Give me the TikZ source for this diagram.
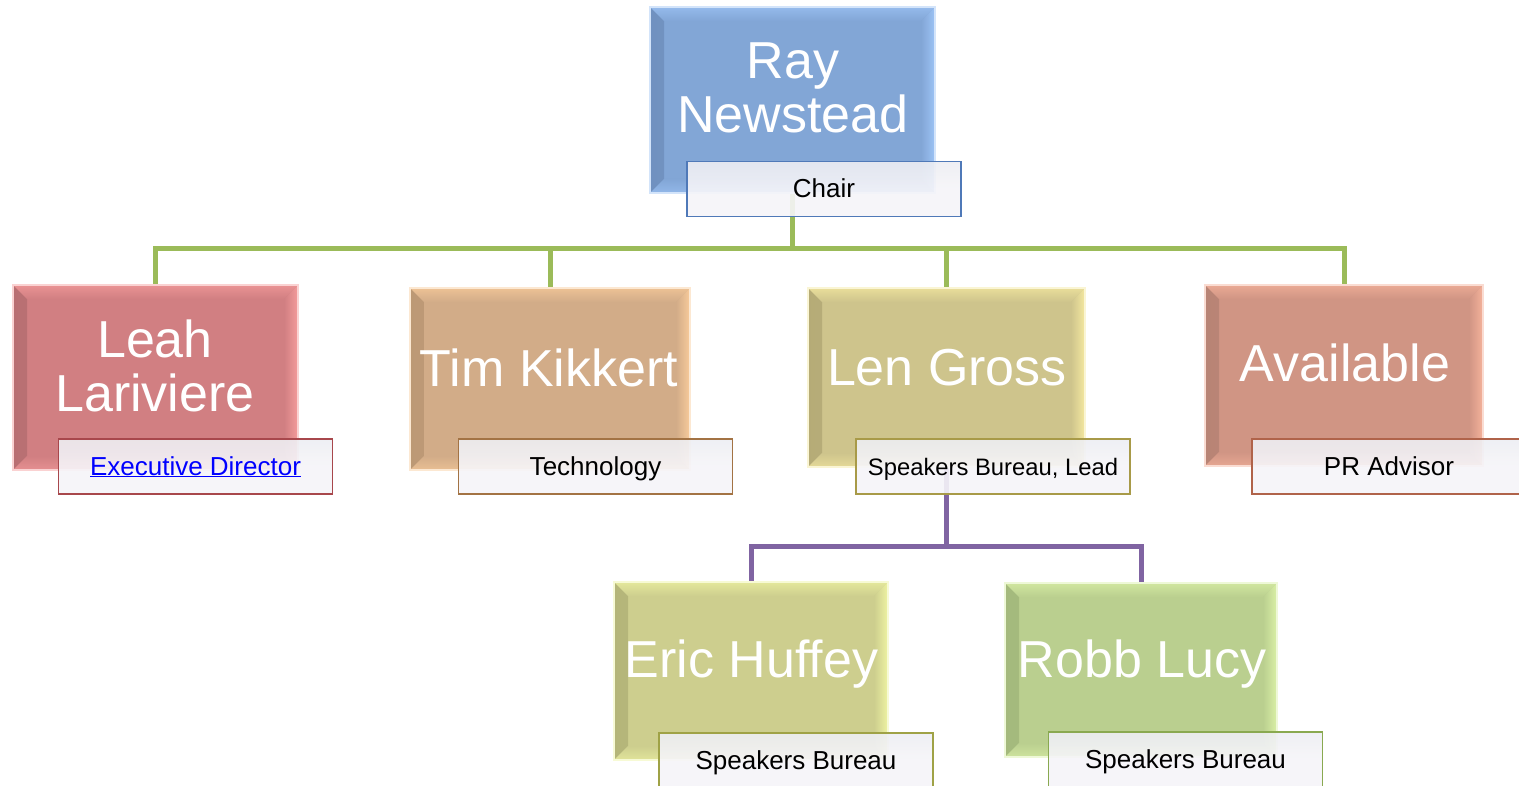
\documentclass[tikz,border=0pt]{standalone}
\usepackage{fontspec}
\setmainfont{Liberation Sans}
\usetikzlibrary{calc}
\definecolor{rayB}{HTML}{82A6D6}\definecolor{rayL}{HTML}{9DC3F5}\definecolor{rayD}{HTML}{6A8AB8}\definecolor{rayE}{HTML}{4F79B8}
\definecolor{leaB}{HTML}{D17F82}\definecolor{leaL}{HTML}{F49B9B}\definecolor{leaD}{HTML}{B06A6D}\definecolor{leaE}{HTML}{A8474C}
\definecolor{timB}{HTML}{D2AC88}\definecolor{timL}{HTML}{F8CB9B}\definecolor{timD}{HTML}{B5926F}\definecolor{timE}{HTML}{A37344}
\definecolor{lenB}{HTML}{CEC48C}\definecolor{lenL}{HTML}{F4E8A0}\definecolor{lenD}{HTML}{ADA370}\definecolor{lenE}{HTML}{A89A48}
\definecolor{avaB}{HTML}{D09584}\definecolor{avaL}{HTML}{F5B29B}\definecolor{avaD}{HTML}{B07E70}\definecolor{avaE}{HTML}{B0634A}
\definecolor{eriB}{HTML}{CDCE8E}\definecolor{eriL}{HTML}{EEF3A2}\definecolor{eriD}{HTML}{ACAD72}\definecolor{eriE}{HTML}{9FA246}
\definecolor{robB}{HTML}{BACF8F}\definecolor{robL}{HTML}{DAF0A6}\definecolor{robD}{HTML}{9CB276}\definecolor{robE}{HTML}{89A950}
\definecolor{lblfill}{HTML}{F6F5F9}
\definecolor{lbltop}{HTML}{EDEEF3}
\definecolor{gline}{HTML}{9BBB59}
\definecolor{pline}{HTML}{8064A2}
\definecolor{linkblue}{HTML}{0000FF}
\newcommand\bvw{14pt}
\tikzset{
  orgbox/.style n args={3}{rectangle, draw=#2!45!white, line width=1.2pt, fill=#1, inner sep=0pt,
    path picture={
      \shade[left color=#3!75!#1, right color=#1]
        (path picture bounding box.north west) -- ([shift={(\bvw,-\bvw)}]path picture bounding box.north west)
        -- ([shift={(\bvw,\bvw)}]path picture bounding box.south west) -- (path picture bounding box.south west) -- cycle;
      \shade[top color=#2!70!#1, bottom color=#1]
        (path picture bounding box.north west) -- (path picture bounding box.north east)
        -- ([shift={(-\bvw,-\bvw)}]path picture bounding box.north east) -- ([shift={(\bvw,-\bvw)}]path picture bounding box.north west) -- cycle;
      \shade[left color=#1, right color=#2]
        (path picture bounding box.north east) -- (path picture bounding box.south east)
        -- ([shift={(-\bvw,\bvw)}]path picture bounding box.south east) -- ([shift={(-\bvw,-\bvw)}]path picture bounding box.north east) -- cycle;
      \shade[top color=#1, bottom color=#2!60!#1]
        (path picture bounding box.south west) -- (path picture bounding box.south east)
        -- ([shift={(-\bvw,\bvw)}]path picture bounding box.south east) -- ([shift={(\bvw,\bvw)}]path picture bounding box.south west) -- cycle;
    }},
  bigtext/.style={text=white, font=\fontsize{52}{53.5}\selectfont, align=center, inner sep=0pt},
  lbl/.style={rectangle, draw=#1, line width=1.8pt, top color=lbltop, bottom color=lblfill, middle color=lblfill,
    fill opacity=0.9, text opacity=1, draw opacity=1,
    text=black, font=\fontsize{26}{30}\selectfont, minimum width=274pt, minimum height=55pt, inner sep=0pt,
    text height=19pt, text depth=2pt},
  gconn/.style={draw=gline, line width=5pt},
  pconn/.style={draw=pline, line width=5pt}
}
\begin{document}
\begin{tikzpicture}[x=1pt,y=-1pt]
\useasboundingbox (0,0) rectangle (1519,786);
\clip (0,0) rectangle (1519,786);
\fill[white] (0,0) rectangle (1519,786);

% boxes
\node[orgbox={rayB}{rayL}{rayD}, minimum width=285pt, minimum height=186pt] (ray) at (792.5,100) {};
\node[orgbox={leaB}{leaL}{leaD}, minimum width=285pt, minimum height=185pt] (leah) at (155.5,377.5) {};
\node[orgbox={timB}{timL}{timD}, minimum width=280pt, minimum height=182pt] (tim) at (550,379) {};
\node[orgbox={lenB}{lenL}{lenD}, minimum width=277pt, minimum height=179pt] (len) at (946.5,377.5) {};
\node[orgbox={avaB}{avaL}{avaD}, minimum width=278pt, minimum height=181pt] (ava) at (1344,375.5) {};
\node[orgbox={eriB}{eriL}{eriD}, minimum width=274pt, minimum height=178pt] (eric) at (751,671) {};
\node[orgbox={robB}{robL}{robD}, minimum width=272pt, minimum height=174pt] (robb) at (1141,670) {};

% connectors
\coordinate (gbus) at (793,249);
\coordinate (pbus) at (946,546);
\draw[gconn] (ray.south) -- (ray.south |- gbus) -| (leah.north);
\draw[gconn] (ray.south |- gbus) -| (tim.north);
\draw[gconn] (ray.south |- gbus) -| (len.north);
\draw[gconn] (ray.south |- gbus) -| (ava.north);
\draw[pconn] (len.south) -- (len.south |- pbus) -| (eric.north);
\draw[pconn] (len.south |- pbus) -| (robb.north);

% names
\node[bigtext] (rayt) at (793,88) {Ray\\Newstead};
\node[bigtext] (leaht) at (155,366) {Leah\\Lariviere};
\node[bigtext, anchor=base] (timt) at (549,387) {Tim Kikkert};
\node[bigtext, anchor=base] (lent) at (947,385) {Len Gross};
\node[bigtext, anchor=base] (avat) at (1345,382) {Available};
\node[bigtext, anchor=base] (erict) at (751.5,677) {Eric Huffey};
\node[bigtext, anchor=base] (robbt) at (1142,677) {Robb Lucy};

% labels
\node[lbl=rayE] (rayl) at (824,189) {Chair};
\node[lbl=leaE] (leahl) at (195.5,466.5) {\textcolor{linkblue}{\underline{Executive Director}}};
\node[lbl=timE] (timl) at (595.5,466.5) {Technology};
\node[lbl=lenE] (lenl) at (993,466.5) {\fontsize{23.8}{28}\selectfont Speakers Bureau, Lead};
\node[lbl=avaE] (aval) at (1389,466.5) {PR Advisor};
\node[lbl=eriE] (ericl) at (796,760.5) {Speakers Bureau};
\node[lbl=robE] (robbl) at (1185.5,759.5) {Speakers Bureau};
\end{tikzpicture}
\end{document}
